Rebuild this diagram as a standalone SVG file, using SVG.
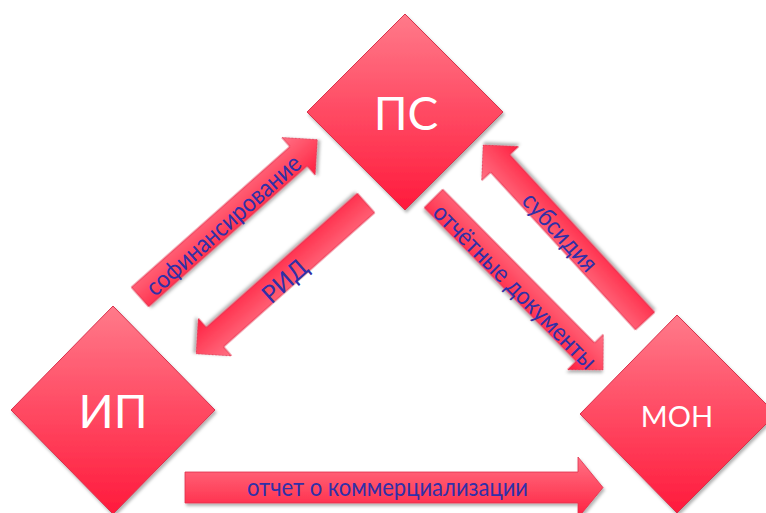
<svg xmlns="http://www.w3.org/2000/svg" width="766" height="513" viewBox="0 0 766 513">
<defs>
  <linearGradient id="gDia" x1="0" y1="0" x2="0" y2="1">
    <stop offset="0" stop-color="#ff7a8a"/>
    <stop offset="1" stop-color="#ff1a3c"/>
  </linearGradient>
  <linearGradient id="gArr" x1="0" y1="0" x2="0" y2="1">
    <stop offset="0" stop-color="#ff7185"/>
    <stop offset="0.5" stop-color="#ff4a62"/>
    <stop offset="1" stop-color="#ff1e40"/>
  </linearGradient>
  <filter id="sh" x="-10%" y="-10%" width="130%" height="130%">
    <feDropShadow dx="1.5" dy="2.5" stdDeviation="1.8" flood-color="#000" flood-opacity="0.3"/>
  </filter>
</defs>
<style>
  .dia { fill: url(#gDia); stroke: #d8304c; stroke-width: 1; filter: url(#sh); }
  .arr { fill: url(#gArr); stroke: #e0304c; stroke-width: 0.8; filter: url(#sh); }
  .nt { font-family: Lato, "Open Sans", "Liberation Sans", sans-serif; fill: #ffffff; text-anchor: middle; }
  .at { font-family: Lato, "Open Sans", "Liberation Sans", sans-serif; fill: #3030a8; font-size: 25px; text-anchor: middle; dominant-baseline: central; }
</style>

<g id="connectors">
  <g id="arrow-cofin">
    <path class="arr" transform="translate(140,297) rotate(-41.6)" d="M0,-13 L212,-13 L212,-25 L237,0 L212,25 L212,13 L0,13 Z"/>
    <text class="at" transform="translate(222.5,224) rotate(-41.6)" textLength="198" lengthAdjust="spacingAndGlyphs">софинансирование</text>
  </g>
  <g id="arrow-rid">
    <path class="arr" transform="translate(366,203) rotate(138.4)" d="M0,-13 L202,-13 L202,-25 L227,0 L202,25 L202,13 L0,13 Z"/>
    <text class="at" transform="translate(284,280) rotate(-41.6)" textLength="52" lengthAdjust="spacingAndGlyphs">РИД</text>
  </g>
  <g id="arrow-subs">
    <path class="arr" transform="translate(645,321) rotate(-132.6)" d="M0,-13 L214,-13 L214,-25 L239,0 L214,25 L214,13 L0,13 Z"/>
    <text class="at" transform="translate(561,231) rotate(47.4)" textLength="98" lengthAdjust="spacingAndGlyphs">субсидия</text>
  </g>
  <g id="arrow-docs">
    <path class="arr" transform="translate(433.5,198.5) rotate(45.3)" d="M0,-13 L216,-13 L216,-25 L241,0 L216,25 L216,13 L0,13 Z"/>
    <text class="at" transform="translate(516,285.5) rotate(45.3)" textLength="221" lengthAdjust="spacingAndGlyphs">отчётные документы</text>
  </g>
  <g id="arrow-report">
    <path class="arr" d="M185,472 L578,472 L578,457 L603,487.5 L578,518 L578,503 L185,503 Z"/>
    <text class="at" x="387.5" y="486" textLength="281" lengthAdjust="spacingAndGlyphs">отчет о коммерциализации</text>
  </g>
</g>

<g id="node-ps">
  <path class="dia" d="M405,14 L503,112 L405,210 L307,112 Z"/>
  <text class="nt" x="406" y="130" font-size="46">ПС</text>
</g>
<g id="node-ip">
  <path class="dia" d="M113,306 L215,410 L113,514 L11,410 Z"/>
  <text class="nt" x="113" y="428" font-size="46">ИП</text>
</g>
<g id="node-mon">
  <path class="dia" d="M677,315 L776,414 L677,513 L580,414 Z"/>
  <text class="nt" x="677" y="427" font-size="29">МОН</text>
</g>
</svg>
